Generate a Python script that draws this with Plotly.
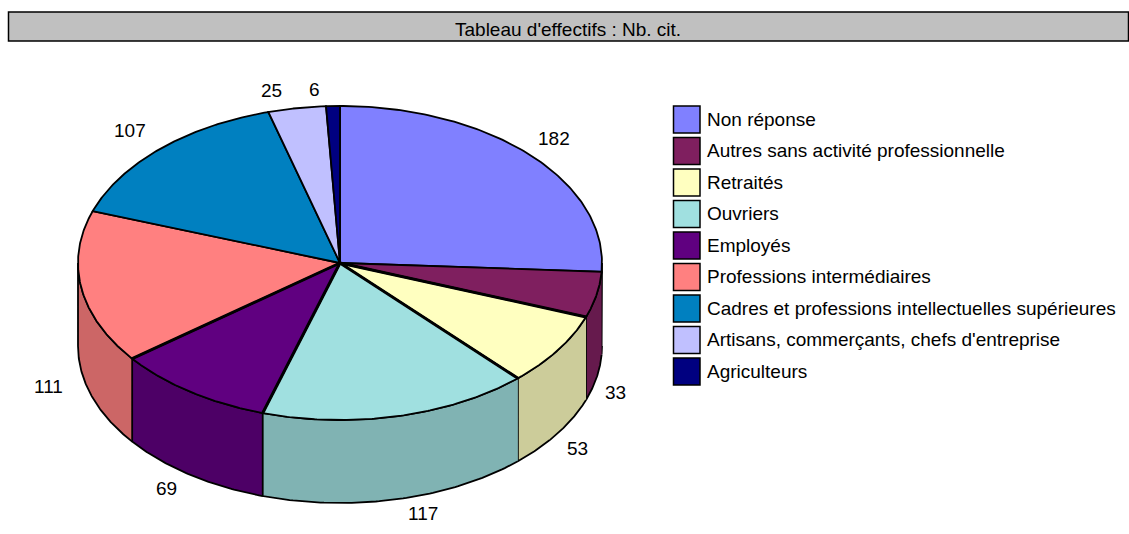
import math
import numpy as np
import plotly.graph_objects as go

# --- data ---
title = "Tableau d'effectifs : Nb. cit."
categories = ["Non réponse", "Autres sans activité professionnelle", "Retraités", "Ouvriers",
              "Employés", "Professions intermédiaires",
              "Cadres et professions intellectuelles supérieures",
              "Artisans, commerçants, chefs d'entreprise", "Agriculteurs"]
values = [182, 33, 53, 117, 69, 111, 107, 25, 6]
top_colors = ["#8080FF", "#7F1F5F", "#FFFFC0", "#A0E0E0", "#600080", "#FF8080", "#0080C0", "#C0C0FF", "#000080"]
wall_colors = ["#661A4D", "#661A4D", "#CCCC9A", "#80B3B3", "#4D0066", "#CC6666", "#006699", "#9A9ACC", "#000066"]

# --- geometry of the drawing (pixels) ---
W, H = 1129, 534
CX, CY, RX, RY, DEPTH = 340, 263, 262, 157, 83
label_offsets = [(24, -17), (19, 15), (19, 15), (25, 14), (-24, 14), (-33, 16), (-30, -18), (-25, -18), (-18, -17)]
thick_radials = [2, 3, 4, 5]   # slice boundaries drawn heavier, as in the original
FONT = dict(family="Liberation Sans, Arial, sans-serif", size=19, color="#000000")


def ex(t):
    return CX + RX * np.sin(np.radians(t))


def ey(t):
    return CY - RY * np.cos(np.radians(t))


total = sum(values)
edges = np.cumsum([0] + values) / total * 360.0
fig = go.Figure()

# side walls, from the outer ends towards the front
wall_order = [0, 1, 2, 5, 4, 3]
for i in wall_order:
    a, b = max(edges[i], 90.0), min(edges[i + 1], 270.0)
    if b <= a:
        continue
    t = np.linspace(a, b, 80)
    xs = np.concatenate([ex(t), ex(t[::-1])])
    ys = np.concatenate([ey(t), ey(t[::-1]) + DEPTH])
    fig.add_trace(go.Scatter(x=xs, y=ys, mode="lines", fill="toself", fillcolor=wall_colors[i],
                             line=dict(color="#000000", width=1.8), hoverinfo="skip", showlegend=False))

# top faces
for i in range(len(values)):
    t = np.linspace(edges[i], edges[i + 1], 120)
    xs = np.concatenate([[CX], ex(t), [CX]])
    ys = np.concatenate([[CY], ey(t), [CY]])
    fig.add_trace(go.Scatter(x=xs, y=ys, mode="lines", fill="toself", fillcolor=top_colors[i],
                             line=dict(color="#000000", width=1.8), hoverinfo="skip",
                             name=categories[i], showlegend=False))

# heavier front radial lines
for k in thick_radials:
    a = edges[k]
    fig.add_trace(go.Scatter(x=[CX, float(ex(a))], y=[CY, float(ey(a))], mode="lines",
                             line=dict(color="#000000", width=3), hoverinfo="skip", showlegend=False))

annotations = []
shapes = []

# value labels
for i, v in enumerate(values):
    mid = (edges[i] + edges[i + 1]) / 2
    lift = DEPTH if 90 < mid < 270 else 0
    annotations.append(dict(x=float(ex(mid)) + label_offsets[i][0], y=float(ey(mid)) + lift + label_offsets[i][1],
                            text=str(v), showarrow=False, font=FONT, xanchor="center", yanchor="middle"))

# title bar
shapes.append(dict(type="rect", x0=8.5, x1=1128.5, y0=12, y1=41, fillcolor="#C0C0C0",
                   line=dict(color="#000000", width=1.5), layer="below"))
annotations.append(dict(x=568, y=29, text=title, showarrow=False, font=FONT, xanchor="center", yanchor="middle"))

# legend
for i, c in enumerate(categories):
    y0 = 106 + 31.5 * i
    shapes.append(dict(type="rect", x0=673.5, x1=700, y0=y0, y1=y0 + 27, fillcolor=top_colors[i],
                       line=dict(color="#000000", width=1.5)))
    annotations.append(dict(x=705, y=y0 + 13, text=c, showarrow=False, font=FONT, xanchor="left", yanchor="middle"))

fig.update_layout(
    width=W, height=H, margin=dict(l=0, r=0, t=0, b=0),
    paper_bgcolor="#FFFFFF", plot_bgcolor="#FFFFFF",
    xaxis=dict(range=[0, W], visible=False, fixedrange=True),
    yaxis=dict(range=[H, 0], visible=False, fixedrange=True),
    annotations=annotations, shapes=shapes, showlegend=False,
)
fig.write_html("out.html", config=dict(displayModeBar=False),
               post_script="document.body.style.margin='0';document.documentElement.style.overflow='hidden';")
